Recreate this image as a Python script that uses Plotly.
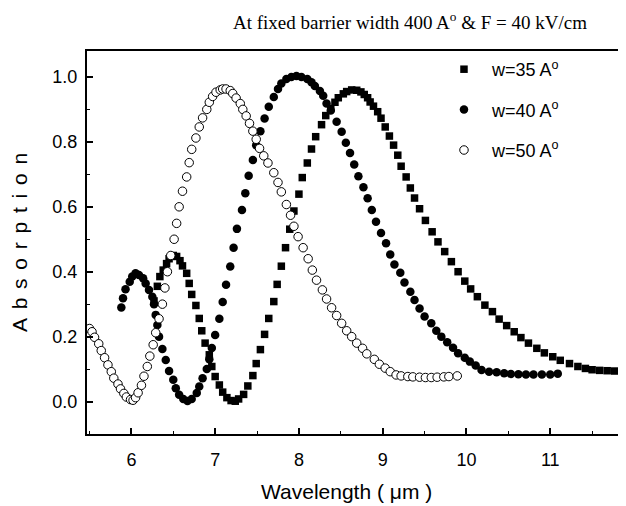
import plotly.graph_objects as go

# w = 35 A (filled squares)
x35 = [6.27, 6.31, 6.34, 6.38, 6.42, 6.45, 6.50, 6.54, 6.58, 6.61, 6.66, 6.69, 6.72, 6.77, 6.81,
       6.84, 6.88, 6.93, 6.96, 7.00, 7.05, 7.09, 7.14, 7.19, 7.24, 7.28, 7.34, 7.39, 7.45, 7.49,
       7.54, 7.59, 7.64, 7.70, 7.74, 7.79, 7.84, 7.89, 7.94, 8.00, 8.04, 8.10, 8.15, 8.20, 8.27,
       8.32, 8.38, 8.43, 8.47, 8.53, 8.57, 8.63, 8.69, 8.74, 8.78, 8.82, 8.85, 8.89, 8.94, 8.98,
       9.03, 9.08, 9.13, 9.18, 9.22, 9.28, 9.33, 9.38, 9.44, 9.51, 9.59, 9.66, 9.74, 9.82, 9.90,
       9.98, 10.05, 10.13, 10.22, 10.31, 10.39, 10.48, 10.57, 10.65, 10.74, 10.84, 10.93, 11.03,
       11.12, 11.23, 11.33, 11.42, 11.50, 11.59, 11.68, 11.77, 11.86, 11.95]
y35 = [0.31, 0.355, 0.385, 0.405, 0.425, 0.44, 0.45, 0.447, 0.434, 0.418, 0.395, 0.364, 0.33, 0.296, 0.256,
       0.218, 0.18, 0.144, 0.108, 0.077, 0.051, 0.029, 0.012, 0.003, 0.001, 0.008, 0.022, 0.048, 0.08, 0.117,
       0.16, 0.207, 0.256, 0.308, 0.361, 0.417, 0.474, 0.531, 0.587, 0.639, 0.69, 0.735, 0.778, 0.816, 0.853,
       0.881, 0.903, 0.922, 0.936, 0.948, 0.955, 0.96, 0.959, 0.954, 0.946, 0.936, 0.923, 0.91, 0.893, 0.873,
       0.846, 0.818, 0.79, 0.759, 0.725, 0.692, 0.658, 0.627, 0.594, 0.558, 0.523, 0.492, 0.462, 0.431, 0.40,
       0.371, 0.347, 0.323, 0.297, 0.277, 0.254, 0.234, 0.215, 0.197, 0.18, 0.164, 0.15, 0.138,
       0.127, 0.117, 0.108, 0.102, 0.098, 0.096, 0.095, 0.094, 0.094, 0.094]

# w = 40 A (filled circles)
x40 = [5.88, 5.90, 5.93, 5.98, 6.01, 6.05, 6.09, 6.14, 6.17, 6.21, 6.25, 6.27, 6.29, 6.31, 6.33,
       6.37, 6.41, 6.45, 6.50, 6.53, 6.57, 6.62, 6.67, 6.72, 6.78, 6.81, 6.85, 6.90, 6.93, 6.96,
       7.00, 7.05, 7.09, 7.13, 7.18, 7.22, 7.26, 7.32, 7.36, 7.40, 7.45, 7.49, 7.54, 7.59, 7.64,
       7.70, 7.75, 7.79, 7.85, 7.91, 7.97, 8.03, 8.10, 8.15, 8.19, 8.25, 8.29, 8.33, 8.38, 8.45,
       8.51, 8.56, 8.61, 8.66, 8.71, 8.77, 8.82, 8.87, 8.92, 8.98, 9.04, 9.09, 9.14, 9.21, 9.26,
       9.33, 9.38, 9.44, 9.50, 9.58, 9.64, 9.70, 9.77, 9.84, 9.90, 9.98, 10.04, 10.11, 10.18, 10.27,
       10.36, 10.45, 10.53, 10.62, 10.71, 10.80, 10.90, 11.00, 11.09]
y40 = [0.29, 0.318, 0.346, 0.369, 0.385, 0.395, 0.39, 0.38, 0.364, 0.344, 0.323, 0.30, 0.267, 0.236, 0.20,
       0.162, 0.128, 0.094, 0.067, 0.041, 0.021, 0.008, 0.002, 0.008, 0.026, 0.046, 0.072, 0.10, 0.13, 0.165,
       0.205, 0.255, 0.307, 0.36, 0.416, 0.474, 0.532, 0.59, 0.642, 0.696, 0.744, 0.79, 0.833, 0.872, 0.908,
       0.938, 0.963, 0.98, 0.994, 1.0, 1.003, 1.0, 0.994, 0.984, 0.972, 0.957, 0.942, 0.918, 0.897, 0.862,
       0.831, 0.797, 0.766, 0.73, 0.694, 0.66, 0.626, 0.59, 0.554, 0.519, 0.488, 0.453, 0.422, 0.397, 0.367,
       0.338, 0.313, 0.287, 0.262, 0.241, 0.218, 0.20, 0.183, 0.166, 0.149, 0.135, 0.123, 0.111, 0.097, 0.092,
       0.09, 0.087, 0.085, 0.084, 0.083, 0.083, 0.083, 0.083, 0.086]

# w = 50 A (open circles)
x50 = [5.50, 5.53, 5.56, 5.61, 5.64, 5.68, 5.72, 5.76, 5.79, 5.84, 5.87, 5.91, 5.94, 5.99, 6.02,
       6.05, 6.08, 6.12, 6.15, 6.19, 6.22, 6.26, 6.29, 6.33, 6.37, 6.40, 6.43, 6.47, 6.51, 6.54,
       6.57, 6.61, 6.66, 6.69, 6.72, 6.77, 6.81, 6.85, 6.90, 6.93, 6.97, 7.01, 7.06, 7.09, 7.13,
       7.18, 7.21, 7.25, 7.30, 7.33, 7.37, 7.41, 7.45, 7.49, 7.53, 7.58, 7.63, 7.70, 7.75, 7.79,
       7.85, 7.90, 7.94, 7.99, 8.05, 8.11, 8.16, 8.21, 8.28, 8.33, 8.39, 8.45, 8.51, 8.57, 8.63,
       8.69, 8.76, 8.81, 8.90, 8.96, 9.03, 9.09, 9.16, 9.22, 9.30, 9.36, 9.44, 9.51, 9.58, 9.65,
       9.73, 9.79, 9.89]
y50 = [0.225, 0.215, 0.198, 0.178, 0.157, 0.135, 0.113, 0.092, 0.072, 0.054, 0.039, 0.025, 0.014, 0.006, 0.004,
       0.012, 0.027, 0.05, 0.078, 0.108, 0.14, 0.175, 0.212, 0.255, 0.30, 0.35, 0.40, 0.45, 0.50, 0.549,
       0.60, 0.648, 0.692, 0.736, 0.777, 0.812, 0.846, 0.874, 0.90, 0.922, 0.94, 0.953, 0.96, 0.963, 0.963,
       0.958, 0.949, 0.935, 0.918, 0.90, 0.88, 0.857, 0.833, 0.808, 0.78, 0.757, 0.735, 0.705, 0.675, 0.646,
       0.607, 0.574, 0.54, 0.508, 0.474, 0.44, 0.405, 0.374, 0.344, 0.316, 0.289, 0.265, 0.241, 0.218, 0.20,
       0.18, 0.164, 0.147, 0.13, 0.115, 0.103, 0.092, 0.082, 0.079, 0.077, 0.076, 0.075, 0.074, 0.074, 0.075,
       0.076, 0.077, 0.079]

names = ["w=35 A<sup>o</sup>", "w=40 A<sup>o</sup>", "w=50 A<sup>o</sup>"]
x_ticks = [6, 7, 8, 9, 10, 11]
y_ticks = [0.0, 0.2, 0.4, 0.6, 0.8, 1.0]
y_tick_text = ["0.0", "0.2", "0.4", "0.6", "0.8", "1.0"]

fig = go.Figure()
fig.add_trace(go.Scatter(x=x35, y=y35, mode="markers", name=names[0], legendgroup="a",
                         marker=dict(symbol="square", size=7.5, color="black", line=dict(width=0))))
fig.add_trace(go.Scatter(x=x40, y=y40, mode="markers", name=names[1], legendgroup="b",
                         marker=dict(symbol="circle", size=8.5, color="black", line=dict(width=0))))
fig.add_trace(go.Scatter(x=x50, y=y50, mode="markers", name=names[2], legendgroup="c",
                         marker=dict(symbol="circle", size=8.5, color="white", line=dict(width=1, color="black"))))

sans = "Liberation Sans, Arial, sans-serif"
axis_font = dict(family=sans, size=18, color="black")
sp = "\u2004\u200a"
fig.update_layout(
    width=626, height=506,
    margin=dict(l=79, r=0, t=43, b=80),
    paper_bgcolor="white", plot_bgcolor="white",
    title=dict(text="At fixed barrier width 400 A<sup>o</sup> &amp; F = 40 kV/cm",
               font=dict(family="Liberation Serif, Times New Roman, serif", size=19, color="black"),
               x=0.5905, xanchor="center", xref="paper", y=0.971, yanchor="middle", yref="container"),
    showlegend=True,
    legend=dict(x=0.638, y=1.0, xanchor="left", yanchor="top", bgcolor="rgba(0,0,0,0)",
                font=dict(family=sans, size=18, color="black"), itemwidth=46,
                traceorder="grouped", tracegroupgap=14),
    xaxis=dict(range=[5.47, 12.0], tickmode="array", tickvals=x_ticks,
               ticks="inside", ticklen=6, tickwidth=1.5, tickcolor="black",
               minor=dict(dtick=0.5, ticks="inside", ticklen=3, tickcolor="black", tickwidth=1),
               showline=True, linewidth=2, linecolor="black", mirror=True,
               showgrid=False, zeroline=False, tickfont=axis_font, ticklabelstandoff=8),
    yaxis=dict(range=[-0.1, 1.08], tickmode="array", tickvals=y_ticks, ticktext=y_tick_text,
               ticks="inside", ticklen=6, tickwidth=1.5, tickcolor="black",
               minor=dict(dtick=0.1, ticks="inside", ticklen=3, tickcolor="black", tickwidth=1),
               showline=True, linewidth=2, linecolor="black", mirror=False,
               showgrid=False, zeroline=False, tickfont=axis_font, ticklabelstandoff=4,
               title=dict(text=sp.join("Absorption"), standoff=20,
                          font=dict(family=sans, size=21, color="black"))),
    annotations=[dict(text="Wavelength ( \u03bcm )", xref="paper", yref="paper",
                      x=0.475, y=-0.149, xanchor="center", yanchor="middle", showarrow=False,
                      font=dict(family=sans, size=21, color="black"))],
)

fig.write_html("out.html")
